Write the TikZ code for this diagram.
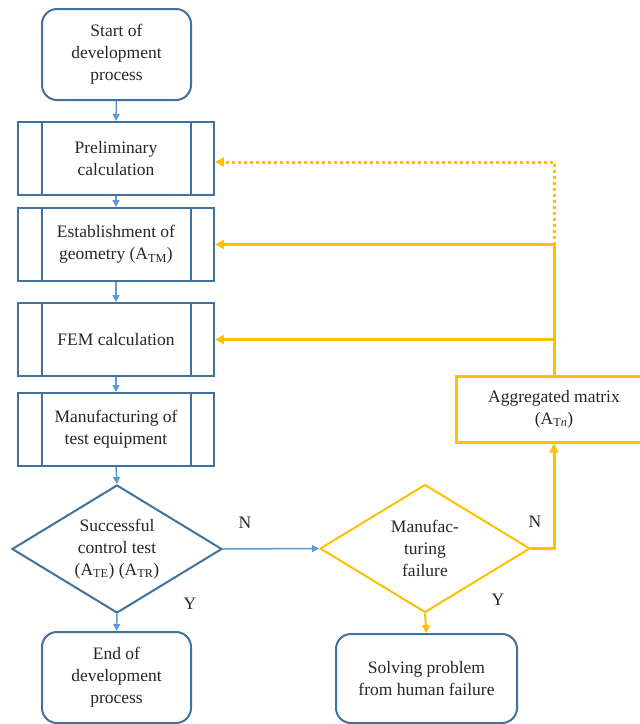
\documentclass[tikz,border=0pt]{standalone}
\usepackage{fontspec}
\setmainfont{Liberation Serif}
\usetikzlibrary{shapes.geometric,arrows.meta,calc}
\definecolor{boxblue}{RGB}{65,113,156}
\definecolor{arrowblue}{RGB}{91,155,213}
\definecolor{gold}{RGB}{255,192,0}
\definecolor{ink}{RGB}{38,38,38}
\newcommand{\flowtext}{\rmfamily\fontsize{17.5}{22}\selectfont}

\begin{document}
\begin{tikzpicture}[x=1pt,y=-1pt]
\tikzset{
  flownode/.style={font=\flowtext, text=ink, align=center},
  terminal/.style={flownode, draw=boxblue, line width=2pt, rounded corners=15pt,
    minimum width=149pt, minimum height=91pt, inner sep=0pt},
  process/.style={flownode, draw=boxblue, line width=2pt, minimum width=196pt,
    minimum height=73pt, inner sep=0pt},
  decision/.style={diamond, line width=2pt, minimum width=210pt,
    minimum height=128pt, inner sep=0pt},
  sideline/.style={draw=boxblue, line width=2pt},
  barrow/.style={draw=arrowblue, line width=1.5pt,
    -{Triangle[length=7pt,width=7pt]}},
  garrow/.style={draw=gold, line width=2pt,
    -{Triangle[length=8pt,width=8pt]}},
  gthick/.style={draw=gold, line width=3pt,
    -{Triangle[length=9pt,width=9pt]}},
  gdots/.style={draw=gold, line width=3pt, dash pattern=on 3pt off 3pt,
    -{Triangle[length=9pt,width=9pt]}},
  yn/.style={flownode, inner sep=0pt}
}
\clip (0,0) rectangle (640,724);

% main column
\node[terminal] (start) at (116.5,54.5) {Start of\\development\\process};
\node[process] (prelim) at (116,158.5) {Preliminary\\calculation};
\node[process] (est) at (116,244.5) {Establishment of\\geometry (A\textsubscript{TM})};
\node[process] (fem) at (116,339.5) {FEM calculation};
\node[process] (manu) at (116,429.5) {Manufacturing of\\test equipment};
\node[decision, draw=boxblue] (d1) at (117,549) {};
\node[flownode] (d1text) at (117,549) {Successful\\control test\\(A\textsubscript{TE}) (A\textsubscript{TR})};
\node[terminal] (finish) at (116.5,677.5) {End of\\development\\process};

% predefined-process side bars
\foreach \n in {prelim,est,fem,manu}{
  \draw[sideline] ([xshift=25pt]\n.north west) -- ([xshift=25pt]\n.south west);
  \draw[sideline] ([xshift=-24pt]\n.north east) -- ([xshift=-24pt]\n.south east);
}

% failure branch
\node[decision, draw=gold] (d2) at (425,548.5) {};
\node[flownode] (d2text) at (425,548.5) {Manufac-\\turing\\failure};
\node[terminal, minimum width=181pt, minimum height=89pt] (solve) at (426.5,678.5)
  {Solving problem\\from human failure};
\node[flownode, draw=gold, line width=3pt, minimum width=196pt, minimum height=66pt,
  inner sep=0pt] (agg) at (554,409) {Aggregated matrix\\(A\textsubscript{T\textit{n}})};

% branch labels
\node[yn] (n1) at (245,523) {N};
\node[yn] (y1) at (190,604) {Y};
\node[yn] (n2) at (535,522) {N};
\node[yn] (y2) at (498,600) {Y};

% main flow
\draw[barrow] (start.south) -- (prelim.north);
\draw[barrow] (prelim.south) -- (est.north);
\draw[barrow] (est.south) -- (fem.north);
\draw[barrow] (fem.south) -- (manu.north);
\draw[barrow] (manu.south) -- (d1.north);
\draw[barrow] (d1.south) -- (finish.north);
\draw[barrow] (d1.east) -- (d2.west);

% feedback loop
\draw[garrow] (d2.south) -- (solve.north);
\draw[gthick] (d2.east) -| (agg.south);
\coordinate (j1) at (agg.north |- est.east);
\coordinate (j2) at (agg.north |- fem.east);
\draw[gthick] (agg.north) -- (j1) -- (est.east);
\draw[gthick] (j2) -- (fem.east);
\draw[gdots] (j1) |- ([yshift=-3.5pt]prelim.east);
\end{tikzpicture}
\end{document}
